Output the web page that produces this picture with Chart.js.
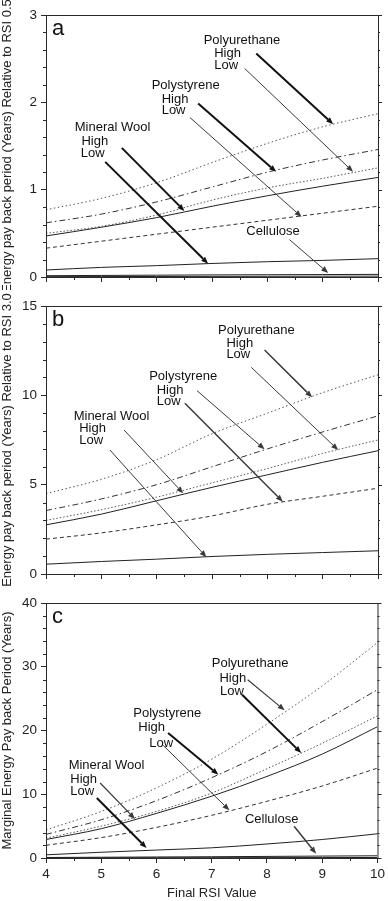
<!DOCTYPE html>
<html>
<head>
<meta charset="utf-8">
<script src="https://cdn.jsdelivr.net/npm/chart.js@4.4.1/dist/chart.umd.min.js"></script>
<style>
  body { margin: 0; background: #fff; }
  .panel { position: absolute; left: 0; }
</style>
</head>
<body>
<div class="panel" style="top:0"><canvas id="chartA" width="388" height="290"></canvas></div>
<div class="panel" style="top:290px"><canvas id="chartB" width="388" height="300"></canvas></div>
<div class="panel" style="top:590px"><canvas id="chartC" width="388" height="311"></canvas></div>
<script>
// x values (final RSI)
const rsi = [4, 5, 6, 7, 8, 9, 10];

// panel a: relative to RSI 0.5
const aPuHigh = [0.77, 0.90, 1.08, 1.31, 1.53, 1.72, 1.87];
const aPsHigh = [0.62, 0.72, 0.86, 1.03, 1.20, 1.34, 1.46];
const aPuLow = [0.50, 0.58, 0.71, 0.88, 1.02, 1.13, 1.25];
const aMwHigh = [0.47, 0.57, 0.68, 0.81, 0.93, 1.04, 1.14];
const aPsLow = [0.33, 0.41, 0.49, 0.57, 0.65, 0.73, 0.81];
const aMwLow = [0.08, 0.11, 0.13, 0.155, 0.175, 0.19, 0.21];
const aCelHigh = [0.015, 0.018, 0.021, 0.024, 0.026, 0.028, 0.03];
const aCelLow = [0.004, 0.005, 0.006, 0.007, 0.008, 0.009, 0.01];

// panel b: relative to RSI 3.0
const bPuHigh = [4.5, 5.3, 6.4, 7.85, 9.0, 10.15, 11.15];
const bPsHigh = [3.55, 4.2, 5.0, 6.0, 7.0, 7.95, 8.85];
const bPuLow = [3.0, 3.6, 4.3, 5.1, 5.9, 6.75, 7.5];
const bMwHigh = [2.75, 3.35, 4.1, 4.85, 5.55, 6.25, 6.9];
const bPsLow = [1.95, 2.3, 2.75, 3.25, 3.9, 4.35, 4.8];
const bMwLow = [0.55, 0.7, 0.83, 0.98, 1.1, 1.2, 1.3];

// panel c: marginal pay back period
const cPuHigh = [4.4, 7.3, 11.0, 15.5, 21.0, 27.0, 33.8];
const cPsHigh = [3.7, 6.0, 9.0, 12.6, 16.7, 21.4, 26.4];
const cPuLow = [3.1, 5.0, 7.3, 10.2, 14.0, 18.0, 22.3];
const cMwHigh = [2.9, 4.6, 7.0, 9.7, 12.8, 16.3, 20.6];
const cPsLow = [2.0, 3.2, 4.8, 6.7, 8.9, 11.3, 14.1];
const cMwLow = [0.5, 0.9, 1.25, 1.6, 2.2, 2.9, 3.8];
const cCelHigh = [0.08, 0.12, 0.16, 0.2, 0.25, 0.3, 0.35];
const cCelLow = [0.02, 0.03, 0.04, 0.05, 0.06, 0.07, 0.08];

// axis ticks
const xTicks = [4, 5, 6, 7, 8, 9, 10];
const yTicksA = [0, 1, 2, 3];
const yTicksB = [0, 5, 10, 15];
const yTicksC = [0, 10, 20, 30, 40];

const FONT = '"Liberation Sans", Arial, sans-serif';
const INK = '#2a2a2a';

const styles = {
  puHigh: { dash: [1.5, 2.5], color: '#555' },
  psHigh: { dash: [6, 3, 1.5, 3], color: '#333' },
  puLow: { dash: [1.5, 2], color: '#555' },
  mwHigh: { dash: [], color: '#222' },
  psLow: { dash: [4, 3], color: '#333' },
  mwLow: { dash: [], color: '#222' },
  celHigh: { dash: [], color: '#222' },
  celLow: { dash: [], color: '#222' }
};

function ds(vals, key) {
  const s = styles[key];
  return {
    label: key,
    data: rsi.map((x, i) => ({ x: x, y: vals[i] })),
    borderColor: s.color,
    borderDash: s.dash,
    borderWidth: 1,
    pointRadius: 0,
    cubicInterpolationMode: 'monotone',
    fill: false
  };
}

// text labels and arrows, in data coordinates
const notesA = {
  letter: 'a',
  labels: [
    ['Mineral Wool', 4.52, 1.708], ['High', 4.64, 1.548], ['Low', 4.63, 1.414],
    ['Polystyrene', 5.91, 2.197], ['High', 6.09, 2.037], ['Low', 6.09, 1.911],
    ['Polyurethane', 6.85, 2.713], ['High', 7.04, 2.56], ['Low', 7.04, 2.427],
    ['Cellulose', 7.62, 0.524]
  ],
  arrows: [
    [5.37, 1.479, 6.50, 0.757, 2], [5.07, 1.318, 6.93, 0.153, 2],
    [6.75, 1.987, 8.16, 1.204, 2], [6.60, 1.827, 8.62, 0.688, 1],
    [7.80, 2.56, 9.19, 1.75, 2], [7.59, 2.388, 9.55, 1.204, 1],
    [8.40, 0.428, 9.10, 0.046, 1]
  ]
};
const notesB = {
  letter: 'b',
  labels: [
    ['Mineral Wool', 4.5, 8.806], ['High', 4.6, 8.153], ['Low', 4.6, 7.463],
    ['Polystyrene', 5.865, 11.08], ['High', 6.0, 10.30], ['Low', 6.0, 9.646],
    ['Polyurethane', 7.11, 13.657], ['High', 7.26, 12.91], ['Low', 7.26, 12.295]
  ],
  arrows: [
    [5.41, 8.06, 6.48, 4.515, 1], [5.155, 6.94, 6.90, 0.933, 1],
    [6.73, 10.26, 7.95, 6.978, 1], [6.51, 9.552, 8.28, 4.049, 1.5],
    [7.95, 12.537, 8.81, 9.888, 1.5], [7.71, 11.567, 9.28, 6.94, 1]
  ]
};
const notesC = {
  letter: 'c',
  labels: [
    ['Mineral Wool', 4.41, 14.54], ['High', 4.44, 12.29], ['Low', 4.44, 10.46],
    ['Polystyrene', 5.58, 22.75], ['High', 5.67, 20.5], ['Low', 5.87, 18.04],
    ['Polyurethane', 7.0, 30.48], ['High', 7.14, 28.13], ['Low', 7.15, 26.14],
    ['Cellulose', 7.6, 6.12]
  ],
  arrows: [
    [4.98, 11.76, 5.61, 6.12, 1.2], [4.92, 9.41, 5.82, 1.57, 2],
    [6.21, 19.61, 7.12, 13.07, 2], [6.12, 17.67, 7.32, 7.48, 1],
    [7.65, 27.97, 8.32, 23.16, 1.2], [7.55, 25.62, 8.62, 16.47, 2],
    [8.49, 4.97, 8.89, 0.68, 1.5]
  ]
};

const decor = {
  id: 'decor',
  afterDatasetsDraw(chart, args, opts) {
    const { ctx, chartArea: ca, scales } = chart;
    const x = scales.x, y = scales.y;
    ctx.save();
    ctx.strokeStyle = INK;
    ctx.lineWidth = 1;
    ctx.setLineDash([]);
    ctx.strokeRect(ca.left + 0.5, ca.top + 0.5, ca.width, ca.height);

    // y minor ticks (left, outward) and right-side ticks
    ctx.beginPath();
    for (let v = 0; v <= opts.yMax + 1e-9; v += opts.yMinor) {
      const py = Math.round(y.getPixelForValue(v)) + 0.5;
      const major = Math.abs(v / opts.yStep - Math.round(v / opts.yStep)) < 1e-6;
      if (!major) { ctx.moveTo(ca.left - 3, py); ctx.lineTo(ca.left, py); }
      ctx.moveTo(ca.right, py); ctx.lineTo(ca.right + (major ? 4 : 2), py);
    }
    // x minor ticks
    for (let v = 4.5; v < 10; v += 1) {
      const px = Math.round(x.getPixelForValue(v)) + 0.5;
      ctx.moveTo(px, ca.bottom); ctx.lineTo(px, ca.bottom + 3);
    }
    ctx.stroke();

    // panel letter
    ctx.fillStyle = '#111';
    ctx.font = '22px ' + FONT;
    ctx.textBaseline = 'top';
    ctx.textAlign = 'left';
    ctx.fillText(opts.notes.letter, ca.left + 6, ca.top + 3);

    // text labels
    ctx.font = '13px ' + FONT;
    ctx.textBaseline = 'middle';
    opts.notes.labels.forEach(([t, vx, vy]) => {
      ctx.fillText(t, x.getPixelForValue(vx), y.getPixelForValue(vy));
    });

    // arrows
    opts.notes.arrows.forEach(([x1, y1, x2, y2, w]) => {
      const p1x = x.getPixelForValue(x1), p1y = y.getPixelForValue(y1);
      const p2x = x.getPixelForValue(x2), p2y = y.getPixelForValue(y2);
      const ang = Math.atan2(p2y - p1y, p2x - p1x);
      const hl = 7, hw = 2.8;
      const bx = p2x - hl * Math.cos(ang), by = p2y - hl * Math.sin(ang);
      ctx.strokeStyle = w >= 2 ? '#111' : '#3a3a3a';
      ctx.fillStyle = ctx.strokeStyle;
      ctx.lineWidth = w;
      ctx.beginPath();
      ctx.moveTo(p1x, p1y);
      ctx.lineTo(bx, by);
      ctx.stroke();
      ctx.beginPath();
      ctx.moveTo(p2x, p2y);
      ctx.lineTo(bx - hw * Math.sin(ang), by + hw * Math.cos(ang));
      ctx.lineTo(bx + hw * Math.sin(ang), by - hw * Math.cos(ang));
      ctx.closePath();
      ctx.fill();
    });
    ctx.restore();
  }
};

function makeChart(id, datasets, cfg) {
  return new Chart(document.getElementById(id), {
    type: 'line',
    data: { datasets: datasets },
    plugins: [decor],
    options: {
      responsive: false,
      animation: false,
      devicePixelRatio: 1,
      layout: { padding: { top: cfg.padTop, right: 10, left: 0, bottom: 0 } },
      plugins: {
        legend: { display: false },
        tooltip: { enabled: false },
        decor: { notes: cfg.notes, yMax: cfg.yTicks[cfg.yTicks.length - 1], yStep: cfg.yTicks[1], yMinor: cfg.yMinor }
      },
      scales: {
        x: {
          type: 'linear',
          min: 4, max: 10,
          afterBuildTicks: s => { s.ticks = xTicks.map(v => ({ value: v })); },
          afterFit: s => { s.height = cfg.xHeight; },
          grid: { drawOnChartArea: false, tickLength: 5, color: INK },
          border: { color: INK },
          ticks: { display: cfg.showX, color: '#222', font: { family: FONT, size: 13.5 }, maxRotation: 0, padding: 3 },
          title: {
            display: cfg.showX, text: 'Final RSI Value', color: '#222',
            font: { family: FONT, size: 13 }, padding: { top: 0, bottom: 0 }
          }
        },
        y: {
          min: 0, max: cfg.yTicks[cfg.yTicks.length - 1],
          afterBuildTicks: s => { s.ticks = cfg.yTicks.map(v => ({ value: v })); },
          afterFit: s => { s.width = 46; },
          grid: { drawOnChartArea: false, tickLength: 5, color: INK },
          border: { color: INK },
          ticks: { color: '#222', font: { family: FONT, size: 13.5 }, padding: 4 },
          title: {
            display: true, text: cfg.title, color: '#222',
            font: { family: FONT, size: 13 }, padding: { top: 0, bottom: 0 }
          }
        }
      }
    }
  });
}

makeChart('chartA', [
  ds(aPuHigh, 'puHigh'), ds(aPsHigh, 'psHigh'), ds(aPuLow, 'puLow'), ds(aMwHigh, 'mwHigh'),
  ds(aPsLow, 'psLow'), ds(aMwLow, 'mwLow'), ds(aCelHigh, 'celHigh'), ds(aCelLow, 'celLow')
], {
  padTop: 15, xHeight: 13, showX: false, yTicks: yTicksA, yMinor: 0.2, notes: notesA,
  title: 'Energy pay back period (Years) Relative to RSI 0.5'
});

makeChart('chartB', [
  ds(bPuHigh, 'puHigh'), ds(bPsHigh, 'psHigh'), ds(bPuLow, 'puLow'), ds(bMwHigh, 'mwHigh'),
  ds(bPsLow, 'psLow'), ds(bMwLow, 'mwLow')
], {
  padTop: 16, xHeight: 16, showX: false, yTicks: yTicksB, yMinor: 1, notes: notesB,
  title: 'Energy pay back period (Years) Relative to RSI 3.0'
});

makeChart('chartC', [
  ds(cPuHigh, 'puHigh'), ds(cPsHigh, 'psHigh'), ds(cPuLow, 'puLow'), ds(cMwHigh, 'mwHigh'),
  ds(cPsLow, 'psLow'), ds(cMwLow, 'mwLow'), ds(cCelHigh, 'celHigh'), ds(cCelLow, 'celLow')
], {
  padTop: 13, xHeight: 43, showX: true, yTicks: yTicksC, yMinor: 2, notes: notesC,
  title: 'Marginal Energy Pay back Period (Years)'
});
</script>
</body>
</html>
